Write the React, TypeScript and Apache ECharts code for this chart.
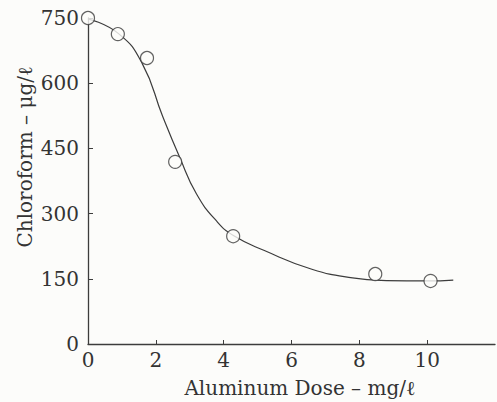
import React, { useEffect, useRef } from "react";
import * as echarts from "echarts";

// Fitted curve (dose mg/ℓ, chloroform µg/ℓ)
const curveDose = [0, 0.9, 1.6, 2.2, 2.7, 3.2, 3.8, 4.3, 5.2, 6.6, 7.8, 8.8, 10.0, 10.77];
const curveChloroform = [748, 714, 645, 524, 430, 345, 282, 249, 215, 172, 152, 146, 145, 147];

// Observed points
const obsDose = [0, 0.88, 1.74, 2.57, 4.28, 8.47, 10.1];
const obsChloroform = [750, 713, 658, 419, 248, 161, 145];

const xTicks = [0, 2, 4, 6, 8, 10];
const yTicks = [0, 150, 300, 450, 600, 750];

const xTitle = "Aluminum Dose – mg/ℓ";
const yTitle = "Chloroform – μg/ℓ";

export default function App() {
  const ref = useRef<HTMLDivElement>(null);
  useEffect(() => {
    if (!ref.current) return;
    const chart = echarts.init(ref.current, null, { renderer: "svg" });
    const ink = "#3c3c3c";
    const font = "DejaVu Serif";
    chart.setOption({
      animation: false,
      backgroundColor: "#fcfcfa",
      grid: { left: 88, right: 2, top: 18, bottom: 58, containLabel: false },
      xAxis: {
        type: "value",
        min: 0,
        max: 12,
        interval: 2,
        axisLine: { lineStyle: { color: ink, width: 1.3 } },
        axisTick: { inside: true, length: 4, lineStyle: { color: ink } },
        splitLine: { show: false },
        axisLabel: {
          showMaxLabel: false,
          color: "#333",
          fontFamily: font,
          fontSize: 20,
          margin: 6,
          formatter: (v: number) => (xTicks.includes(v) ? String(v) : ""),
        },
      },
      yAxis: {
        type: "value",
        min: 0,
        max: 750,
        interval: 150,
        axisLine: { show: true, lineStyle: { color: ink, width: 1.3 } },
        axisTick: { show: true, inside: true, length: 5, lineStyle: { color: ink } },
        splitLine: { show: false },
        axisLabel: {
          color: "#333",
          fontFamily: font,
          fontSize: 20,
          margin: 9,
          formatter: (v: number) => (yTicks.includes(v) ? String(v) : ""),
        },
      },
      graphic: [
        {
          type: "text",
          x: 300,
          y: 388,
          style: {
            text: xTitle,
            font: `20px '${font}'`,
            fill: "#333",
            textAlign: "center",
            textVerticalAlign: "middle",
          },
        },
        {
          type: "text",
          x: 25,
          y: 157,
          rotation: Math.PI / 2,
          style: {
            text: yTitle,
            font: `20px '${font}'`,
            fill: "#333",
            textAlign: "center",
            textVerticalAlign: "middle",
          },
        },
      ],
      series: [
        {
          type: "line",
          data: curveDose.map((d, i) => [d, curveChloroform[i]]),
          smooth: 0.5,
          showSymbol: false,
          lineStyle: { color: ink, width: 1.2 },
          z: 1,
        },
        {
          type: "scatter",
          data: obsDose.map((d, i) => [d, obsChloroform[i]]),
          symbol: "circle",
          symbolSize: 13,
          itemStyle: { color: "#fcfcfa", borderColor: ink, borderWidth: 1.2 },
          z: 3,
        },
      ],
    });
    return () => chart.dispose();
  }, []);
  return (
    <div
      ref={ref}
      style={{ position: "fixed", left: 0, top: 0, width: 497, height: 402 }}
    />
  );
}
